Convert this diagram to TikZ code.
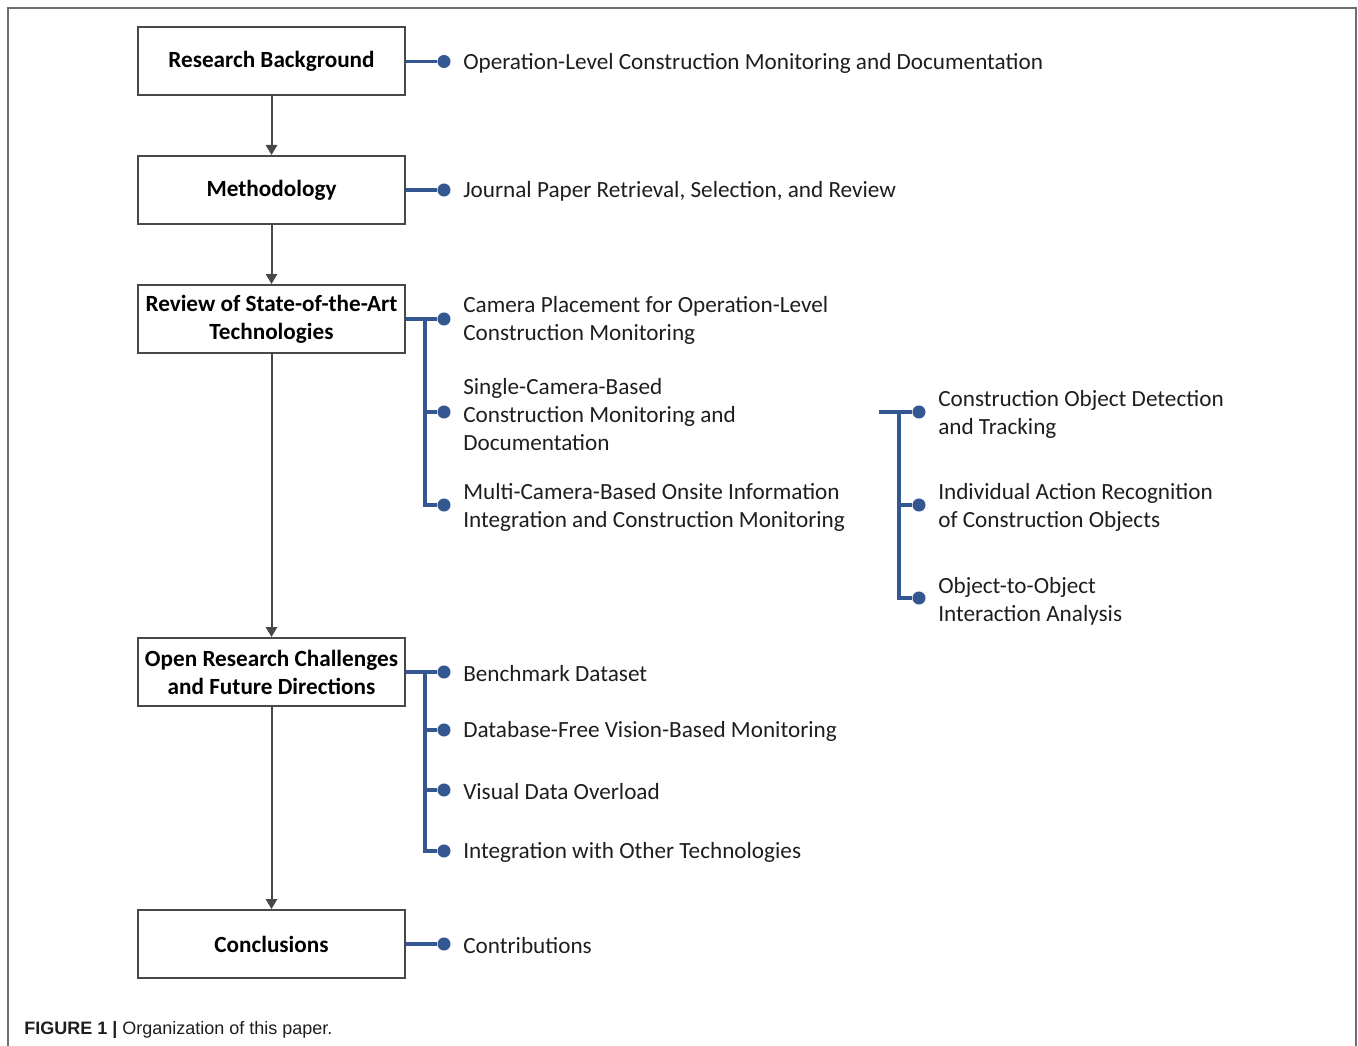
\documentclass[tikz,border=0pt]{standalone}
\usepackage{fontspec}
\setmainfont{Carlito}
\newfontfamily\capfont{Liberation Sans}
\usetikzlibrary{arrows.meta}
\definecolor{bl}{RGB}{52,86,145}
\definecolor{ar}{RGB}{72,72,72}
\definecolor{txtc}{RGB}{30,30,30}
\begin{document}
\begin{tikzpicture}[x=0.75pt,y=-0.75pt,
  box/.style={draw=ar, line width=1.5pt, minimum width=200pt, minimum height=51pt, inner sep=0pt, align=center, font=\fontsize{17.4pt}{21pt}\selectfont\bfseries, text=black},
  txt/.style={anchor=west, inner sep=0pt, align=left, font=\fontsize{17.4pt}{21pt}\selectfont, text=txtc},
  dot/.style={circle, fill=bl, minimum size=9.8pt, inner sep=0pt},
  bline/.style={draw=bl, line width=2.8pt},
  arr/.style={draw=ar, line width=1.5pt, -{Triangle[length=7.5pt,width=8.5pt]}}]
\useasboundingbox (0,0) rectangle (1358,1045);
% frame
\draw[ar!80, line width=1.4pt] (8,1050) -- (8,8) -- (1356,8) -- (1356,1050);
% boxes
\node[box] (b1) at (271.5,61.5) {Research Background};
\node[box] (b2) at (271.5,190) {Methodology};
\node[box] (b3) at (271.5,319) {Review of State-of-the-Art\\Technologies};
\node[box] (b4) at (271.5,672) {Open Research Challenges\\and Future Directions};
\node[box] (b5) at (271.5,944) {Conclusions};
\draw[arr] (b1) -- (b2);
\draw[arr] (b2) -- (b3);
\draw[arr] (b3) -- (b4);
\draw[arr] (b4) -- (b5);
% dots
\node[dot] (d1) at (444,61.5) {};
\node[dot] (d2) at (444,190) {};
\node[dot] (d31) at (444,319) {};
\node[dot] (d32) at (444,412) {};
\node[dot] (d33) at (444,505) {};
\node[dot] (d41) at (444,672) {};
\node[dot] (d42) at (444,730) {};
\node[dot] (d43) at (444,790) {};
\node[dot] (d44) at (444,851) {};
\node[dot] (d5) at (444,944) {};
\node[dot] (r1) at (919,412) {};
\node[dot] (r2) at (919,505) {};
\node[dot] (r3) at (919,598) {};
% texts
\node[txt] (t1) at (463,63) {Operation-Level Construction Monitoring and Documentation};
\node[txt] (t2) at (463,191.5) {Journal Paper Retrieval, Selection, and Review};
\node[txt] (t31) at (463,320.5) {Camera Placement for Operation-Level\\Construction Monitoring};
\node[txt] (t32) at (463,414.5) {Single-Camera-Based\\Construction Monitoring and\\Documentation};
\node[txt] (t33) at (463,507.5) {Multi-Camera-Based Onsite Information\\Integration and Construction Monitoring};
\node[txt] (t41) at (463,673.5) {Benchmark Dataset};
\node[txt] (t42) at (463,731.5) {Database-Free Vision-Based Monitoring};
\node[txt] (t43) at (463,791.5) {Visual Data Overload};
\node[txt] (t44) at (463,852.5) {Integration with Other Technologies};
\node[txt] (t5) at (463,945.5) {Contributions};
\node[txt] (s1) at (938,414.5) {Construction Object Detection\\and Tracking};
\node[txt] (s2) at (938,507.5) {Individual Action Recognition\\of Construction Objects};
\node[txt] (s3) at (938,601.5) {Object-to-Object\\Interaction Analysis};
% blue connectors
\draw[bline] (b1.east) -- (d1);
\draw[bline] (b2.east) -- (d2);
\coordinate (j3) at (425,319);
\draw[bline] (b3.east) -- (d31);
\draw[bline] (j3) |- (d33);
\draw[bline] (j3 |- d32) -- (d32);
\coordinate (j4) at (425,672);
\draw[bline] (b4.east) -- (d41);
\draw[bline] (j4) |- (d44);
\draw[bline] (j4 |- d42) -- (d42);
\draw[bline] (j4 |- d43) -- (d43);
\draw[bline] (b5.east) -- (d5);
\coordinate (r0) at (879,412);
\coordinate (jr) at (899,412);
\draw[bline] (r0) -- (r1);
\draw[bline] (jr) |- (r3);
\draw[bline] (jr |- r2) -- (r2);
% caption
\node[anchor=base west, inner sep=0pt, font=\capfont\fontsize{13.5pt}{15pt}\selectfont, text=txtc] (cap) at (24,1034) {\textbf{FIGURE 1 |} Organization of this paper.};
\end{tikzpicture}
\end{document}
